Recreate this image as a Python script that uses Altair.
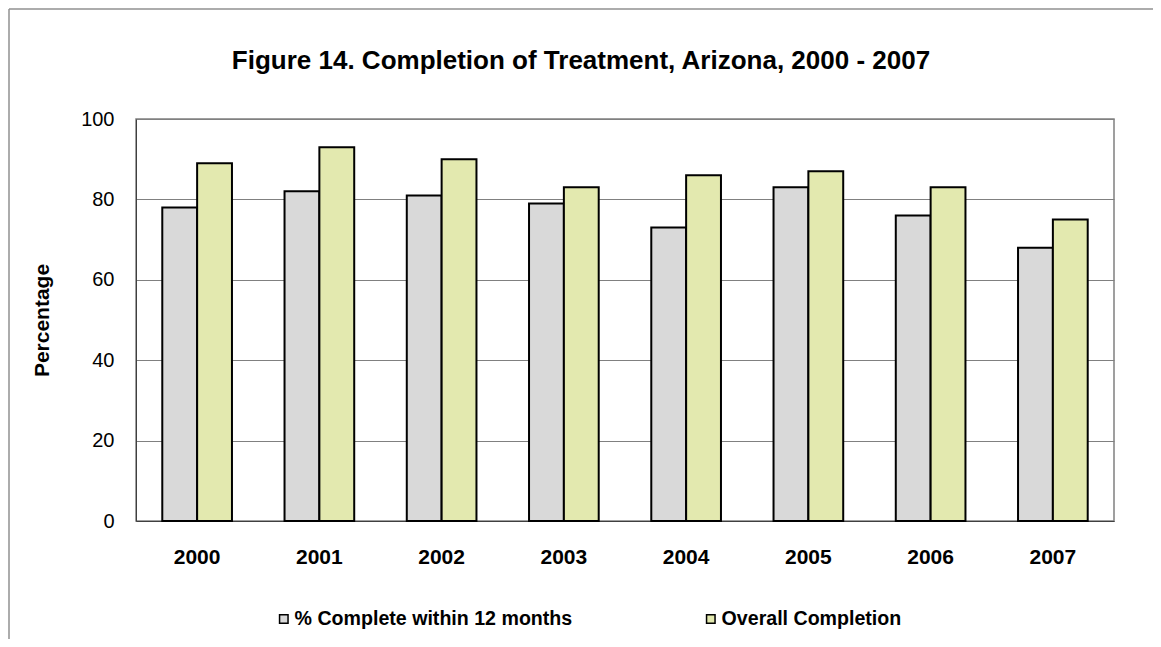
import altair as alt
import pandas as pd

years = ["2000", "2001", "2002", "2003", "2004", "2005", "2006", "2007"]
within_12 = [78, 82, 81, 79, 73, 83, 76, 68]
overall = [89, 93, 90, 83, 86, 87, 83, 75]
series_names = ["% Complete within 12 months", "Overall Completion"]
colors = ["#D9D9D9", "#E3E9AF"]

rows = []
for i, y in enumerate(years):
    rows.append({"Year": y, "Series": series_names[0], "Value": within_12[i]})
    rows.append({"Year": y, "Series": series_names[1], "Value": overall[i]})
df = pd.DataFrame(rows)

FONT = "Liberation Sans"

bars = alt.Chart(df).mark_bar(stroke="black", strokeWidth=2).encode(
    x=alt.X("Year:N", sort=years,
            scale=alt.Scale(paddingInner=0.43, paddingOuter=0.215),
            axis=alt.Axis(title=None, labelAngle=0, labelFontWeight="bold",
                          labelFontSize=21, labelPadding=25, ticks=False,
                          domainColor="#404040", labelColor="black", labelFont=FONT)),
    xOffset=alt.XOffset("Series:N", sort=series_names),
    y=alt.Y("Value:Q", scale=alt.Scale(domain=[0, 100]),
            axis=alt.Axis(title="Percentage", values=[0, 20, 40, 60, 80, 100],
                          ticks=False, labelFontSize=20, labelPadding=22,
                          titleFontSize=21, titleFontWeight="bold", titlePadding=28,
                          gridColor="#808080", gridWidth=1, domainColor="#404040",
                          labelColor="black", titleColor="black",
                          labelFont=FONT, titleFont=FONT)),
    color=alt.Color("Series:N", sort=series_names,
                    scale=alt.Scale(domain=series_names, range=colors),
                    legend=alt.Legend(title=None, orient="none", legendX=138, legendY=490,
                                      direction="horizontal", columns=2,
                                      columnPadding=128, symbolType="square",
                                      symbolSize=72, symbolStrokeColor="black",
                                      symbolStrokeWidth=1.5, labelFontSize=19.6,
                                      labelFontWeight="bold", labelFont=FONT,
                                      labelColor="black", labelOffset=1,
                                      labelLimit=400)),
)

border_top = alt.Chart(alt.Data(values=[{"k": 1}])).mark_rule(color="#909090", strokeWidth=1.5).encode(
    x=alt.value(-127), x2=alt.value(1025), y=alt.value(-110))
border_left = alt.Chart(alt.Data(values=[{"k": 1}])).mark_rule(color="#909090", strokeWidth=1.5).encode(
    x=alt.value(-127), y=alt.value(-110), y2=alt.value(528))

chart = alt.layer(bars, border_top, border_left).properties(
    width=978, height=402,
    autosize=alt.AutoSizeParams(type="none"),
    padding={"left": 128, "top": 111, "right": 39, "bottom": 118},
    title=alt.TitleParams("Figure 14. Completion of Treatment, Arizona, 2000 - 2007",
                          fontSize=26, fontWeight="bold", font=FONT, color="black",
                          anchor="middle", frame="group", dx=-44, offset=-66),
).configure_view(stroke="#808080", strokeWidth=1.5)

chart.save("out.html", embed_options={"renderer": "svg", "actions": False})
